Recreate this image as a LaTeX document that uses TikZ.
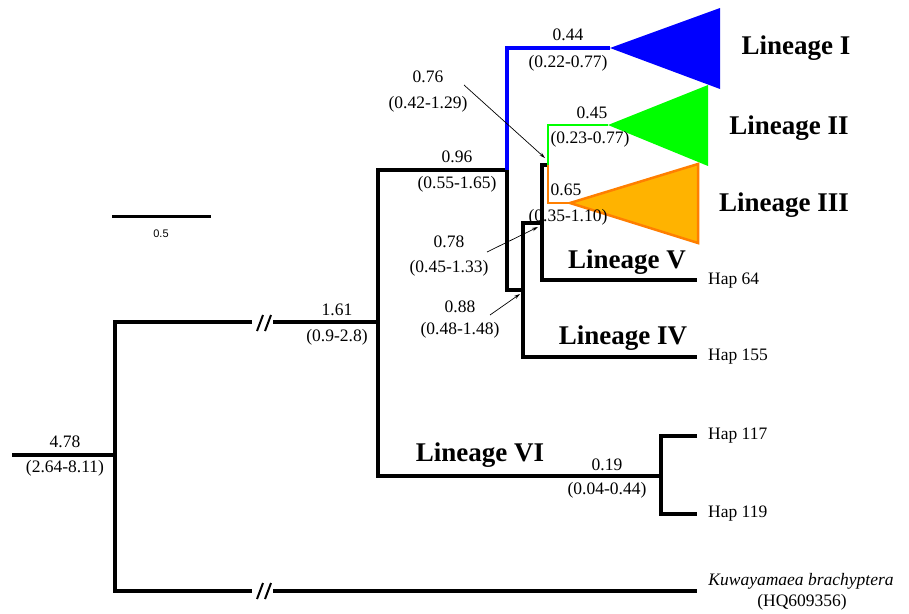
\documentclass[tikz,border=0pt]{standalone}
\usepackage{fontspec}
\setmainfont{Liberation Serif}
\newfontfamily\barfont{Liberation Sans}
\usetikzlibrary{arrows.meta}
\definecolor{cblue}{HTML}{0000FF}
\definecolor{cgreen}{HTML}{00FF00}
\definecolor{corange}{HTML}{FFB300}
\definecolor{coline}{HTML}{FF7F00}
\tikzset{
  br/.style={line width=3.2pt, line join=miter},
  bbr/.style={br, draw=cblue},
  gbr/.style={line width=2.2pt, draw=cgreen},
  obr/.style={line width=2.2pt, draw=coline},
  num/.style={font=\fontsize{17.5}{19}\selectfont, inner sep=0pt},
  lin/.style={font=\fontsize{27}{30}\selectfont\bfseries, inner sep=0pt},
  hap/.style={font=\fontsize{17.5}{19}\selectfont, inner sep=0pt, anchor=west},
  ptr/.style={line width=0.7pt, -{Stealth[length=6pt,width=3.5pt]}},
  brk/.style={line width=2pt},
}
\begin{document}
\begin{tikzpicture}[x=1pt,y=-1pt]
\useasboundingbox (0,0) rectangle (909,613);
% coordinates
\coordinate (root0) at (12,455);
\coordinate (rt) at (115,322);
\coordinate (rb) at (115,591);
\coordinate (b1a) at (252,322);
\coordinate (b1b) at (273,322);
\coordinate (b2a) at (252,591);
\coordinate (b2b) at (273,591);
\coordinate (n1) at (378,322);
\coordinate (n1t) at (378,170);
\coordinate (n1b) at (378,476);
\coordinate (nA) at (507,170);
\coordinate (nAt) at (507,48);
\coordinate (nAb) at (507,290);
\coordinate (nB) at (523,290);
\coordinate (nBt) at (523,223);
\coordinate (nBb) at (523,357);
\coordinate (nC) at (542,223);
\coordinate (nCt) at (542,165);
\coordinate (nCb) at (542,280);
\coordinate (nD) at (548,165);
\coordinate (nDt) at (548,125);
\coordinate (nDb) at (548,203);
\coordinate (n6) at (661,476);
\coordinate (n6t) at (661,436);
\coordinate (n6b) at (661,514);
\coordinate (tI) at (610,48);
\coordinate (tII) at (608,125);
\coordinate (tIII) at (570,203);
\coordinate (e64) at (697,280);
\coordinate (e155) at (697,357);
\coordinate (e117) at (697,436);
\coordinate (e119) at (697,514);
\coordinate (eK) at (697,591);

% clades
\fill[cblue] (tI) -- (720,8) -- (720,89) -- cycle;
\fill[cgreen] (tII) -- (708,85) -- (708,166) -- cycle;
\filldraw[fill=corange, draw=coline, line width=2.5pt, line join=miter] (tIII) -- (698,164) -- (698,243) -- cycle;

% branches
\draw[br] (root0) -- (115,455);
\draw[br] (b1a) -| (rb) -- (b2a);
\draw[br] (b1b) -- (n1);
\draw[br] (b2b) -- (eK);
\draw[br] (nA) -| (n1b) -- (n6);
\draw[br] (e117) -| (n6b) -- (e119);
\draw[br] (nA) |- (nB);
\draw[bbr] (tI) -| (nA);
\draw[br] (nC) -| (nBb) -- (e155);
\draw[br] (nD) -| (nCb) -- (e64);
\draw[gbr] (tII) -| (nD);
\draw[obr] (nD) |- (tIII);

% break marks
\draw[brk] (257,331) -- (263,315);
\draw[brk] (265,331) -- (271,315);
\draw[brk] (257,599) -- (263,583);
\draw[brk] (265,599) -- (271,583);

% scale bar
\draw[line width=3pt] (112,216) -- (211,216);
\node[font=\barfont\fontsize{11}{13}\selectfont, inner sep=0pt] (sb) at (161,234) {0.5};

% numeric labels
\node[num] (l478) at (65,442) {4.78};
\node[num] (l478c) at (65,468) {(2.64-8.11)};
\node[num] (l161) at (337,310) {1.61};
\node[num] (l161c) at (337,337) {(0.9-2.8)};
\node[num] (l096) at (457,157) {0.96};
\node[num] (l096c) at (457,184) {(0.55-1.65)};
\node[num] (l044) at (568,35) {0.44};
\node[num] (l044c) at (568,63) {(0.22-0.77)};
\node[num] (l076) at (428,77) {0.76};
\node[num] (l076c) at (428,104) {(0.42-1.29)};
\node[num] (l045) at (592,113) {0.45};
\node[num] (l045c) at (590,139) {(0.23-0.77)};
\node[num] (l065) at (566,190) {0.65};
\node[num] (l065c) at (568,217) {(0.35-1.10)};
\node[num] (l078) at (449,242) {0.78};
\node[num] (l078c) at (449,268) {(0.45-1.33)};
\node[num] (l088) at (460,307) {0.88};
\node[num] (l088c) at (460,330) {(0.48-1.48)};
\node[num] (l019) at (607,465) {0.19};
\node[num] (l019c) at (607,490) {(0.04-0.44)};

% pointers
\coordinate (p76) at (545,158);
\coordinate (p78) at (538,227);
\coordinate (p88) at (520,294);
\draw[ptr] (464,85) -- (p76);
\draw[ptr] (487,252) -- (p78);
\draw[ptr] (490,315) -- (p88);

% lineage labels
\node[lin] (LI) at (796,48) {Lineage I};
\node[lin] (LII) at (789,128) {Lineage II};
\node[lin] (LIII) at (784,205) {Lineage III};
\node[lin] (LV) at (627,262) {Lineage V};
\node[lin] (LIV) at (623,338) {Lineage IV};
\node[lin] (LVI) at (480,455) {Lineage VI};

% tips
\node[hap] (h64) at (708,281) {Hap 64};
\node[hap] (h155) at (708,357) {Hap 155};
\node[hap] (h117) at (708,436) {Hap 117};
\node[hap] (h119) at (708,514) {Hap 119};
\node[font=\fontsize{17.5}{19}\selectfont\itshape, inner sep=0pt] (kb) at (801,581) {Kuwayamaea brachyptera};
\node[font=\fontsize{17.5}{19}\selectfont, inner sep=0pt] (hq) at (802,602) {(HQ609356)};
\end{tikzpicture}
\end{document}
